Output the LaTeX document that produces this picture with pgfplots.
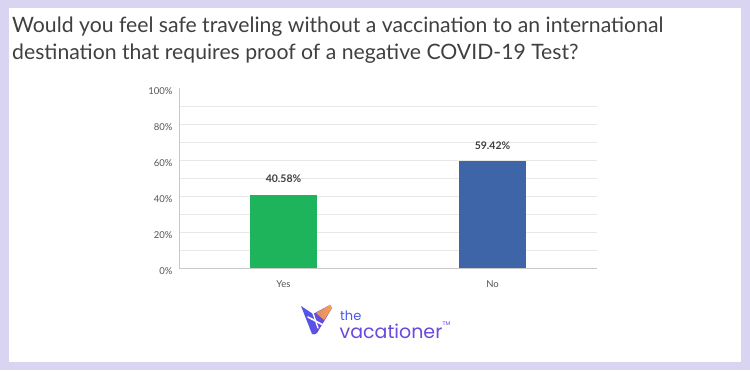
\documentclass[border=0pt]{standalone}
\usepackage{pgfplots}
\pgfplotsset{compat=1.18}
\usepackage{fontspec}
\setmainfont{Lato}
\newfontfamily\logofont{Poppins}
\definecolor{lav}{RGB}{217,212,242}
\definecolor{titlegray}{RGB}{64,64,64}
\definecolor{tickgray}{RGB}{85,85,85}
\definecolor{bargreen}{RGB}{30,180,92}
\definecolor{barblue}{RGB}{61,101,168}
\definecolor{gridc}{RGB}{232,232,232}
\definecolor{axc}{RGB}{200,200,200}
\definecolor{logoblue}{RGB}{72,92,232}
\definecolor{logopurple}{RGB}{122,64,218}
\definecolor{logoorange}{RGB}{248,160,78}
\begin{document}
\begin{tikzpicture}[x=1pt,y=1pt]
\fill[lav] (0,0) rectangle (750,370);
\fill[white] (9,8) rectangle (741,362);
\node[anchor=base west, inner sep=0, text=titlegray, font=\fontsize{21.2}{24}\selectfont] at (12,337) {Would you feel safe traveling without a vaccination to an international};
\node[anchor=base west, inner sep=0, text=titlegray, font=\fontsize{21.2}{24}\selectfont] at (12,310) {destination that requires proof of a negative COVID-19 Test?};
\begin{axis}[
  at={(179pt,102pt)}, anchor=south west, scale only axis,
  width=418pt, height=180pt,
  xmin=-0.5, xmax=1.5, ymin=0, ymax=100,
  xtick={0,1}, xticklabels={Yes,No},
  ytick={0,20,...,80}, minor ytick={10,30,...,90},
  extra y ticks={100}, extra y tick style={grid=none},
  ymajorgrids, yminorgrids,
  major grid style={gridc, line width=0.6pt},
  minor grid style={gridc, line width=0.6pt},
  axis x line*=bottom, axis y line*=left,
  axis line style={axc, line width=0.8pt, -},
  tick style={draw=none},
  /pgf/number format/assume math mode=true,
  yticklabel={\pgfmathprintnumber{\tick}\%},
  yticklabel style={font=\fontsize{9.5}{11}\selectfont, text=tickgray, xshift=-3pt, yshift=-3pt},
  xticklabel style={font=\fontsize{9.5}{11}\selectfont, text=tickgray, yshift=-9pt},
  nodes near coords={\pgfmathprintnumber[fixed,precision=2,fixed zerofill]{\pgfplotspointmeta}\%},
  nodes near coords style={anchor=base, yshift=12pt, font=\bfseries\fontsize{10.5}{12}\selectfont, text=titlegray},
  clip=false,
]
\addplot[ybar, bar width=67pt, fill=bargreen, draw=none] coordinates {(0,40.58)};
\addplot[ybar, bar width=67pt, fill=barblue, draw=none] coordinates {(1,59.42)};
\end{axis}
% logo
\shade[left color=logoblue, right color=logopurple] (301,64) -- (313,56) -- (330,65) -- (332,62) -- (317,37) to[bend left=40] (312,36) -- cycle;
\shade[left color=logoorange!80!logopurple, right color=logoorange] (316,57) -- (330,65) -- (332,62) -- (324,50) -- cycle;
\draw[white, line width=1.6pt, line cap=round] (308,53) -- (323,45);
\draw[white, line width=1.4pt, line cap=round] (313,57) -- (318,42);
\node[anchor=base west, inner sep=0, text=logoblue, font=\logofont\fontsize{13}{14}\selectfont] at (340,50) {the};
\node[anchor=base west, inner sep=0, text=logopurple!70!logoblue, font=\logofont\fontsize{19}{20}\selectfont] at (339.5,32) {vacationer};
\node[anchor=base west, inner sep=0, text=logopurple, font=\logofont\fontsize{5.5}{6}\selectfont] at (442.5,45) {TM};
\end{tikzpicture}
\end{document}
